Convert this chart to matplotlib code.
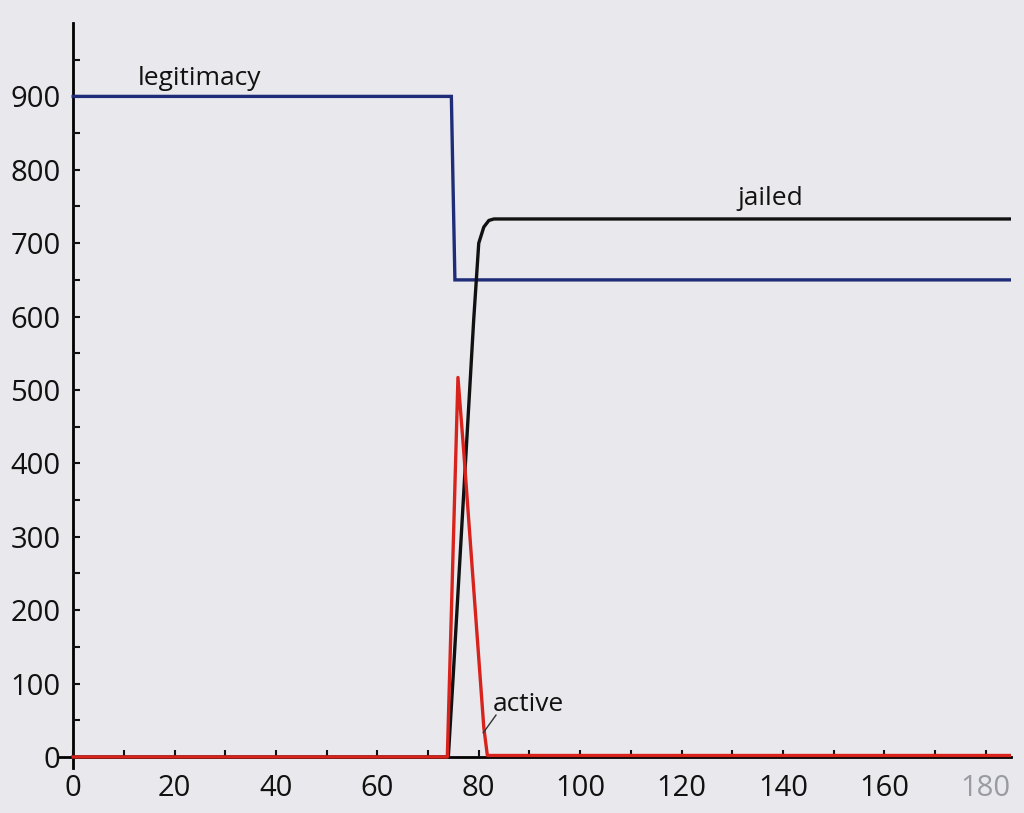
import matplotlib
matplotlib.use("Agg")
import matplotlib.pyplot as plt

plt.rcParams['font.family'] = ['Open Sans', 'DejaVu Sans']

# time steps and values
legit_t = [0, 74.6, 74.9, 75.3, 185]
legit_v = [900, 900, 790, 650, 650]

jailed_t = [0, 74, 75, 76, 77, 78, 79, 80, 81, 82, 83, 185]
jailed_v = [0, 0, 115, 235, 355, 475, 595, 700, 722, 731, 733, 733]

active_t = [0, 73.8, 75.9, 77, 78, 79, 80, 81, 81.7, 185]
active_v = [0, 0, 517, 420, 325, 230, 135, 40, 2, 2]

x_ticks = [0, 20, 40, 60, 80, 100, 120, 140, 160, 180]
y_ticks = [0, 100, 200, 300, 400, 500, 600, 700, 800, 900]

blue = '#1f2c78'
red = '#d8231d'
paper = '#e8e8ed'

fig = plt.figure(figsize=(10.24, 8.13), dpi=100, facecolor=paper)
ax = fig.add_axes([58 / 1024, 0.0554, (1011 - 58) / 1024, 0.9163])
ax.set_facecolor(paper)

ax.plot(legit_t, legit_v, color=blue, lw=2.4, solid_joinstyle='miter')
ax.plot(jailed_t, jailed_v, color='#111111', lw=2.4)
ax.plot(active_t, active_v, color=red, lw=2.4)

ax.set_xlim(-3, 185)
ax.set_ylim(-15, 1000)

for s in ['top', 'right']:
    ax.spines[s].set_visible(False)
ax.spines['left'].set_position(('data', 0))
ax.spines['bottom'].set_position(('data', 0))
ax.spines['left'].set_linewidth(2)
ax.spines['bottom'].set_linewidth(2)
ax.spines['left'].set_zorder(1)
ax.spines['bottom'].set_zorder(1)

ax.set_xticks(x_ticks)
ax.set_xticks(range(10, 181, 20), minor=True)
ax.set_yticks(y_ticks)
ax.set_yticks(range(50, 1000, 100), minor=True)
ax.set_xticklabels([str(v) for v in x_ticks])
ax.set_yticklabels([str(v) for v in y_ticks])
ax.tick_params(axis='both', which='both', direction='in', length=5, width=1.5,
               labelsize=21, colors='#111111')
ax.tick_params(axis='x', pad=12)
ax.tick_params(axis='y', pad=9)
ax.get_xticklabels()[-1].set_color('#9a9aa2')

ax.text(25, 915, 'legitimacy', fontsize=19, ha='center', va='baseline', color='#111111')
ax.text(137.5, 752, 'jailed', fontsize=19, ha='center', va='baseline', color='#111111')
ax.text(82.8, 63, 'active', fontsize=19, ha='left', va='baseline', color='#111111')
ax.plot([83.4, 80.9], [57, 33], color='#333333', lw=1)

fig.savefig('out.png', dpi=100, facecolor=paper)
